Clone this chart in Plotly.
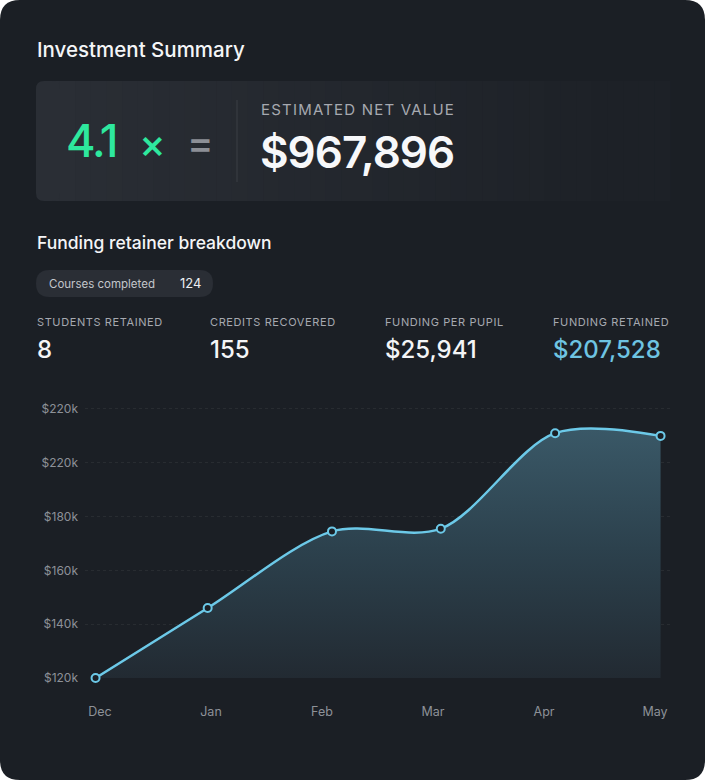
import plotly.graph_objects as go

# chart data
months = ["Dec", "Jan", "Feb", "Mar", "Apr", "May"]
month_pos = [-0.04, 0.97, 2.09, 3.07, 4.10, 5.05]
funding = [120000, 146000, 174500, 175500, 211000, 210000]
y_ticks = [120000, 140000, 160000, 180000, 200000, 220000]
y_tick_text = ["$120k", "$140k", "$160k", "$180k", "$220k", "$220k"]

# summary figures
multiplier = "4.1"
net_value = "$967,896"
courses_completed = "124"
stat_labels = ["STUDENTS RETAINED", "CREDITS RECOVERED", "FUNDING PER PUPIL", "FUNDING RETAINED"]
stat_values = ["8", "155", "$25,941", "$207,528"]

W, H = 705, 780
CARD = "#1b1f25"
FONT = "Inter"


def fx(px):
    return px / W


def fy(py):
    return 1 - py / H


def rounded(x0, y0, x1, y1, r):
    # rounded rectangle path in paper coordinates (pixels in)
    rx, ry = r / W, r / H
    a, b, c, d = fx(x0), fy(y1), fx(x1), fy(y0)
    return (f"M {a+rx},{b} L {c-rx},{b} Q {c},{b} {c},{b+ry} L {c},{d-ry} "
            f"Q {c},{d} {c-rx},{d} L {a+rx},{d} Q {a},{d} {a},{d-ry} "
            f"L {a},{b+ry} Q {a},{b} {a+rx},{b} Z")


def lerp_color(c1, c2, t):
    h1 = [int(c1[i:i + 2], 16) for i in (1, 3, 5)]
    h2 = [int(c2[i:i + 2], 16) for i in (1, 3, 5)]
    return "#" + "".join(f"{round(a + (b - a) * t):02x}" for a, b in zip(h1, h2))


fig = go.Figure()

fig.add_trace(go.Scatter(
    x=month_pos, y=funding,
    mode="lines+markers",
    line=dict(color="#6cc9e8", width=2.5, shape="spline", smoothing=0.9),
    marker=dict(size=8, color=CARD, line=dict(color="#6cc9e8", width=2)),
    fill="tozeroy",
    fillgradient=dict(type="vertical", start=120000, stop=216000,
                      colorscale=[[0, "#222a32"], [0.5, "#2c414d"], [1, "#3b5a69"]]),
    cliponaxis=False,
    hoverinfo="skip",
))

shapes = [
    dict(type="path", path=rounded(0, 0, W, H, 20), xref="paper", yref="paper",
         fillcolor=CARD, line=dict(width=0), layer="below"),
    dict(type="path", path=rounded(36, 81, 670, 201, 8), xref="paper", yref="paper",
         fillcolor="#1d2127", line=dict(width=0), layer="below"),
]
# panel gradient, light on the left fading into the card
n = 40
x_start, x_end = 44, 670
step = (x_end - x_start) / n
for i in range(n):
    t = i / (n - 1)
    col = lerp_color("#2a2e35", "#1d2127", min(1, t * 1.1))
    shapes.append(dict(type="rect", xref="paper", yref="paper",
                       x0=fx(x_start + i * step), x1=fx(x_start + (i + 1) * step + 0.6),
                       y0=fy(201), y1=fy(81), fillcolor=col, line=dict(width=0), layer="below"))
shapes.append(dict(type="path", path=rounded(36, 81, 60, 201, 8), xref="paper", yref="paper",
                   fillcolor="#2a2e35", line=dict(width=0), layer="below"))
# divider in the panel
shapes.append(dict(type="line", xref="paper", yref="paper", x0=fx(237), x1=fx(237),
                   y0=fy(100), y1=fy(182), line=dict(color="#3a3e45", width=1)))
# pill
shapes.append(dict(type="path", path=rounded(36, 270, 213, 297, 13.5), xref="paper", yref="paper",
                   fillcolor="#2a2e35", line=dict(width=0), layer="below"))
fig.update_layout(shapes=shapes)


def note(text, x, y, size, color, weight=400, xanchor="left", yanchor="middle"):
    fig.add_annotation(text=text, x=fx(x), y=fy(y), xref="paper", yref="paper",
                       showarrow=False, xanchor=xanchor, yanchor=yanchor,
                       font=dict(family=FONT, size=size, color=color, weight=weight))


note("Investment Summary", 35, 49, 20.5, "#f4f5f7", 500)
note(f'<span style="letter-spacing:-2px">{multiplier}</span>', 64, 140, 45, "#2ee89e", 500)
note("×", 137, 143, 40, "#2ee89e", 500)
note("=", 185, 142, 40, "#8c8f96", 500)
note('<span style="letter-spacing:1.2px">ESTIMATED NET VALUE</span>', 259, 110, 15, "#a6a9b0")
note(f'<span style="letter-spacing:-1px">{net_value}</span>', 258, 152, 44, "#f7f8fa", 600)

note("Funding retainer breakdown", 35, 242, 17.5, "#f4f5f7", 500)
note("Courses completed", 47, 284, 11.5, "#c3c6cb")
note(courses_completed, 178, 283, 13, "#eceef1")

stat_x = [36, 209, 384, 552]
for i, (lab, val) in enumerate(zip(stat_labels, stat_values)):
    note(f'<span style="letter-spacing:0.6px">{lab}</span>', stat_x[i] - 1, 322, 11, "#a6a9b0")
    note(val, stat_x[i] - 1, 350, 24, "#6ec4e2" if i == 3 else "#f4f5f7", 500)

fig.update_layout(
    width=W, height=H,
    margin=dict(l=0, r=0, t=0, b=0),
    paper_bgcolor="#ffffff",
    plot_bgcolor="rgba(0,0,0,0)",
    showlegend=False,
    xaxis=dict(
        domain=[fx(85), fx(670)],
        range=[-0.135, 5.135],
        tickvals=list(range(len(months))), ticktext=months,
        showgrid=False, zeroline=False, showline=False, ticks="",
        tickfont=dict(family=FONT, size=12.5, color="#8d9198"),
        ticklabelstandoff=24, automargin=False, fixedrange=True,
    ),
    yaxis=dict(
        domain=[fy(678), fy(403.6)],
        range=[120000, 222000],
        tickvals=y_ticks, ticktext=y_tick_text,
        showgrid=True, gridcolor="rgba(255,255,255,0.06)", griddash="dot", gridwidth=1,
        zeroline=False, showline=False, ticks="",
        tickfont=dict(family=FONT, size=12, color="#8d9198"),
        ticklabelstandoff=6, automargin=False, fixedrange=True,
    ),
)

fig.write_html("out.html", config={"displayModeBar": False},
               post_script="document.body.style.margin='0';")
